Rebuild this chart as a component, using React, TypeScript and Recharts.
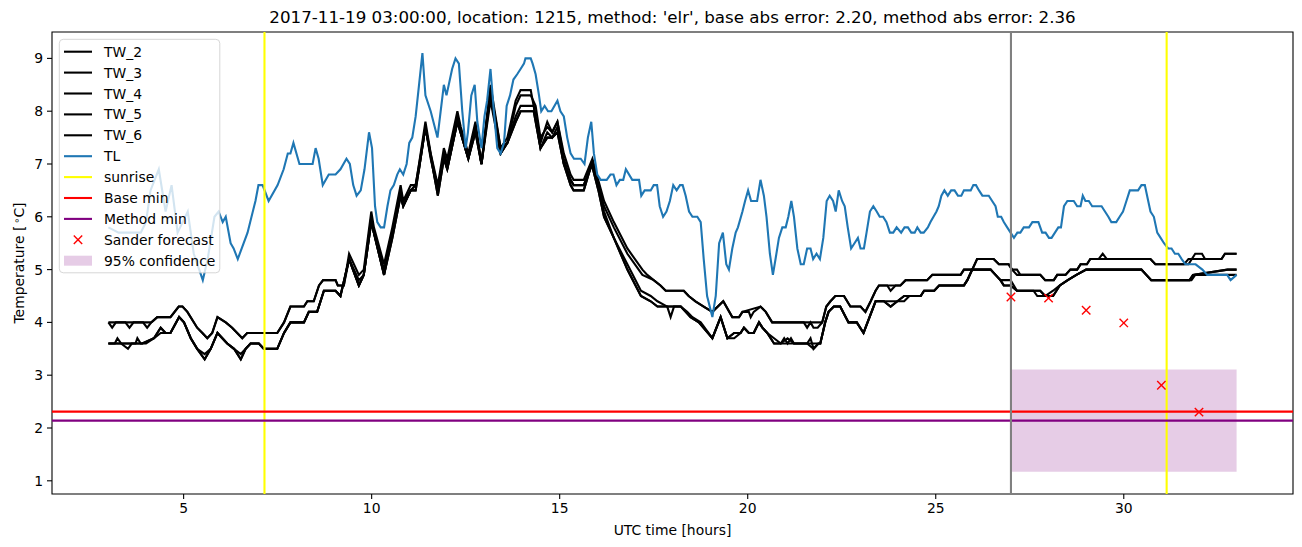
import { ComposedChart, Line, Scatter, XAxis, YAxis, ReferenceLine, ReferenceArea } from 'recharts'

// [hour, temperature] pairs
const tl: [number, number][] = [
  [3.0, 5.8], [3.27, 5.7], [3.54, 5.7], [3.86, 5.7], [4.0, 5.9], [4.12, 6.5], [4.34, 6.9], [4.52, 6.1], [4.68, 6.6], [4.84, 5.7],
  [5.11, 6.1], [5.27, 5.3], [5.51, 4.8], [5.64, 5.2], [5.82, 6.0], [5.93, 6.1], [6.04, 5.9], [6.12, 6.0], [6.25, 5.5], [6.33, 5.4],
  [6.44, 5.2], [6.7, 5.7], [6.91, 6.3], [6.99, 6.6], [7.1, 6.6], [7.26, 6.3], [7.5, 6.6], [7.66, 6.9], [7.77, 7.2], [7.84, 7.2],
  [7.92, 7.4], [8.08, 7.0], [8.43, 7.0], [8.51, 7.3], [8.59, 7.1], [8.7, 6.6], [8.86, 6.8], [9.04, 6.8], [9.17, 6.9], [9.33, 7.1],
  [9.42, 7.0], [9.51, 6.6], [9.6, 6.4], [9.71, 6.5], [9.81, 6.9], [9.93, 7.6], [10.01, 7.3], [10.09, 6.2], [10.15, 5.9], [10.24, 5.8],
  [10.33, 5.8], [10.42, 6.2], [10.5, 6.5], [10.59, 6.6], [10.68, 6.8], [10.75, 6.9], [10.84, 6.8], [10.93, 7.0], [11.0, 7.4], [11.08, 7.5],
  [11.17, 7.9], [11.26, 8.5], [11.35, 9.1], [11.43, 8.3], [11.57, 8.0], [11.75, 7.5], [11.92, 8.5], [11.99, 8.3], [12.14, 8.8], [12.23, 9.0],
  [12.32, 8.9], [12.41, 8.0], [12.5, 7.3], [12.56, 7.6], [12.65, 8.3], [12.74, 8.5], [12.81, 7.8], [12.92, 7.3], [13.0, 7.9], [13.07, 8.2],
  [13.16, 8.8], [13.25, 8.0], [13.34, 7.3], [13.43, 7.2], [13.52, 7.4], [13.59, 8.1], [13.68, 8.3], [13.77, 8.6], [13.87, 8.7], [13.96, 8.8],
  [14.05, 8.9], [14.09, 9.0], [14.23, 9.0], [14.28, 8.9], [14.36, 8.7], [14.45, 8.3], [14.51, 8.0], [14.6, 8.1], [14.69, 8.0], [14.78, 8.0],
  [14.94, 8.2], [15.02, 8.0], [15.11, 7.9], [15.2, 7.5], [15.29, 7.2], [15.38, 7.1], [15.56, 7.1], [15.66, 7.0], [15.75, 7.5], [15.84, 7.8],
  [15.91, 7.2], [16.0, 6.8], [16.09, 6.7], [16.25, 6.7], [16.35, 6.8], [16.43, 6.8], [16.51, 6.6], [16.6, 6.7], [16.69, 6.7], [16.76, 6.9],
  [16.93, 6.7], [17.11, 6.7], [17.17, 6.4], [17.26, 6.5], [17.42, 6.5], [17.5, 6.6], [17.59, 6.6], [17.66, 6.2], [17.75, 6.0], [17.84, 6.1],
  [17.93, 6.3], [18.02, 6.6], [18.11, 6.5], [18.2, 6.6], [18.27, 6.6], [18.35, 6.4], [18.44, 6.1], [18.53, 6.0], [18.66, 6.0], [18.75, 5.9],
  [18.83, 5.2], [18.92, 4.5], [19.06, 4.1], [19.15, 4.5], [19.24, 5.5], [19.34, 5.7], [19.43, 5.1], [19.5, 5.0], [19.59, 5.4], [19.68, 5.7],
  [19.74, 5.8], [19.86, 6.1], [19.93, 6.3], [20.01, 6.5], [20.09, 6.3], [20.25, 6.3], [20.34, 6.7], [20.43, 6.4], [20.5, 6.0], [20.59, 5.3],
  [20.67, 4.9], [20.74, 5.2], [20.83, 5.6], [20.92, 5.8], [21.01, 5.8], [21.08, 6.0], [21.16, 6.3], [21.23, 6.0], [21.32, 5.4], [21.41, 5.1],
  [21.49, 5.1], [21.58, 5.4], [21.67, 5.4], [21.74, 5.2], [21.83, 5.3], [21.92, 5.2], [22.01, 5.6], [22.1, 6.3], [22.18, 6.4], [22.27, 6.3],
  [22.34, 6.1], [22.42, 6.5], [22.51, 6.3], [22.58, 6.2], [22.66, 5.8], [22.75, 5.4], [22.84, 5.5], [22.93, 5.6], [23.0, 5.4], [23.09, 5.4],
  [23.16, 5.7], [23.25, 6.1], [23.34, 6.2], [23.43, 6.1], [23.51, 6.0], [23.6, 6.0], [23.69, 5.9], [23.78, 5.7], [23.87, 5.7], [23.96, 5.8],
  [24.08, 5.7], [24.17, 5.8], [24.26, 5.8], [24.35, 5.7], [24.44, 5.7], [24.51, 5.8], [24.6, 5.7], [24.68, 5.7], [24.79, 5.8], [24.86, 5.9],
  [24.94, 6.0], [25.02, 6.1], [25.08, 6.2], [25.15, 6.4], [25.23, 6.5], [25.32, 6.4], [25.41, 6.5], [25.5, 6.5], [25.59, 6.4], [25.68, 6.4],
  [25.75, 6.5], [25.93, 6.5], [26.0, 6.6], [26.07, 6.6], [26.15, 6.5], [26.24, 6.4], [26.41, 6.4], [26.5, 6.3], [26.59, 6.2], [26.65, 6.0],
  [26.74, 6.0], [26.81, 5.9], [26.9, 5.8], [26.99, 5.7], [27.08, 5.6], [27.17, 5.7], [27.25, 5.7], [27.34, 5.8], [27.48, 5.8], [27.57, 5.9],
  [27.73, 5.9], [27.83, 5.7], [27.92, 5.7], [28.01, 5.6], [28.08, 5.6], [28.17, 5.7], [28.26, 5.8], [28.33, 5.8], [28.41, 6.2], [28.5, 6.3],
  [28.67, 6.3], [28.76, 6.2], [28.85, 6.2], [28.91, 6.4], [28.98, 6.3], [29.07, 6.3], [29.16, 6.2], [29.41, 6.2], [29.5, 6.1], [29.59, 6.0],
  [29.67, 5.9], [29.8, 5.9], [29.89, 6.0], [29.98, 6.1], [30.07, 6.3], [30.16, 6.5], [30.38, 6.5], [30.47, 6.6], [30.56, 6.6], [30.65, 6.3],
  [30.71, 6.1], [30.8, 6.0], [30.89, 5.7], [30.98, 5.6], [31.07, 5.5], [31.18, 5.4], [31.27, 5.4], [31.36, 5.3], [31.45, 5.3], [31.54, 5.2],
  [31.64, 5.1], [31.91, 5.1], [32.09, 5.0], [32.22, 4.9], [32.75, 4.9], [32.84, 4.8], [33.0, 4.9],
]

const tw2: [number, number][] = [
  [3.0, 4.0], [3.45, 4.0], [3.67, 4.0], [4.14, 4.0], [4.3, 4.1], [4.65, 4.1], [4.87, 4.3], [4.97, 4.3], [5.1, 4.2], [5.36, 3.9],
  [5.5, 3.8], [5.63, 3.7], [5.76, 3.8], [5.9, 4.1], [6.12, 4.0], [6.29, 3.9], [6.56, 3.7], [6.69, 3.8], [7.49, 3.8], [7.67, 4.0],
  [7.84, 4.3], [8.2, 4.3], [8.29, 4.4], [8.46, 4.4], [8.6, 4.7], [8.71, 4.8], [9.04, 4.8], [9.1, 4.7], [9.26, 4.7], [9.4, 5.3],
  [9.66, 4.9], [9.79, 5.0], [9.99, 6.1], [10.06, 5.8], [10.33, 5.1], [10.55, 5.8], [10.77, 6.6], [10.84, 6.3], [11.04, 6.6], [11.17, 6.6],
  [11.26, 7.0], [11.43, 7.8], [11.57, 7.2], [11.76, 6.6], [11.92, 7.3], [12.01, 7.1], [12.28, 8.0], [12.37, 7.7], [12.57, 7.2], [12.76, 7.8],
  [12.92, 7.0], [13.16, 8.5], [13.43, 7.3], [13.61, 7.5], [13.83, 8.2], [13.96, 8.4], [14.23, 8.4], [14.49, 7.4], [14.67, 7.8], [14.8, 7.6],
  [14.94, 7.8], [15.11, 7.2], [15.29, 6.8], [15.37, 6.7], [15.64, 6.7], [15.87, 7.1], [16.18, 6.3], [16.44, 5.9], [16.8, 5.4], [17.2, 5.0],
  [17.33, 4.9], [17.5, 4.8], [17.68, 4.7], [17.82, 4.6], [18.3, 4.6], [18.43, 4.5], [18.61, 4.4], [18.83, 4.3], [19.06, 4.2], [19.35, 4.4],
  [19.59, 4.1], [19.77, 4.1], [19.86, 4.2], [20.03, 4.2], [20.08, 4.1], [20.16, 4.2], [20.34, 4.3], [20.48, 4.2], [20.65, 4.0], [21.49, 4.0],
  [21.58, 3.9], [21.67, 4.0], [21.75, 3.9], [21.86, 3.9], [21.98, 4.0], [22.09, 4.3], [22.2, 4.4], [22.33, 4.5], [22.56, 4.5], [22.73, 4.3],
  [23.0, 4.3], [23.13, 4.2], [23.27, 4.4], [23.4, 4.6], [23.49, 4.7], [23.71, 4.7], [23.8, 4.6], [23.93, 4.7], [24.06, 4.7], [24.2, 4.8],
  [24.77, 4.8], [24.91, 4.9], [25.66, 4.9], [25.75, 5.0], [25.97, 5.0], [26.1, 5.2], [26.54, 5.2], [26.68, 5.1], [26.94, 5.1], [27.03, 5.0],
  [27.16, 5.0], [27.25, 4.9], [27.78, 4.9], [27.91, 4.8], [28.14, 4.8], [28.23, 4.9], [28.45, 4.9], [28.58, 5.0], [28.76, 5.0], [28.85, 5.1],
  [29.02, 5.1], [29.11, 5.2], [29.33, 5.2], [29.44, 5.3], [29.55, 5.2], [30.71, 5.2], [30.84, 5.1], [31.72, 5.1], [31.9, 5.3], [32.08, 5.3],
  [32.16, 5.2], [32.6, 5.2], [32.69, 5.3], [33.0, 5.3],
]

const tw3: [number, number][] = [
  [3.0, 4.0], [3.1, 3.9], [3.2, 4.0], [3.45, 4.0], [3.56, 3.9], [3.67, 4.0], [3.92, 4.0], [4.03, 3.9], [4.14, 4.0], [4.3, 4.1],
  [4.65, 4.1], [4.87, 4.3], [4.97, 4.3], [5.1, 4.2], [5.36, 3.9], [5.5, 3.8], [5.63, 3.7], [5.76, 3.8], [5.9, 4.1], [6.12, 4.0],
  [6.29, 3.9], [6.56, 3.7], [6.69, 3.8], [7.49, 3.8], [7.67, 4.0], [7.84, 4.3], [8.2, 4.3], [8.29, 4.4], [8.46, 4.4], [8.6, 4.7],
  [8.71, 4.8], [9.04, 4.8], [9.1, 4.7], [9.26, 4.7], [9.4, 5.2], [9.66, 4.8], [9.79, 4.9], [9.99, 6.0], [10.06, 5.7], [10.33, 5.0],
  [10.55, 5.7], [10.77, 6.5], [10.84, 6.3], [11.04, 6.5], [11.17, 6.6], [11.26, 6.9], [11.43, 7.7], [11.57, 7.1], [11.76, 6.5], [11.92, 7.2],
  [12.01, 7.0], [12.28, 7.9], [12.37, 7.6], [12.57, 7.1], [12.76, 7.7], [12.92, 7.0], [13.16, 8.4], [13.43, 7.3], [13.61, 7.4], [13.83, 8.1],
  [13.96, 8.3], [14.23, 8.3], [14.36, 8.1], [14.49, 7.5], [14.67, 7.7], [14.8, 7.6], [14.94, 7.8], [15.11, 7.1], [15.29, 6.7], [15.37, 6.6],
  [15.64, 6.6], [15.87, 7.0], [16.18, 6.2], [16.44, 5.8], [16.8, 5.3], [17.2, 4.9], [17.5, 4.8], [17.68, 4.7], [17.82, 4.6], [18.3, 4.6],
  [18.43, 4.5], [18.61, 4.4], [18.83, 4.3], [19.06, 4.2], [19.35, 4.4], [19.59, 4.1], [19.77, 4.1], [19.86, 4.2], [20.34, 4.3], [20.48, 4.2],
  [20.65, 4.0], [21.49, 4.0], [21.98, 4.0], [22.09, 4.3], [22.2, 4.4], [22.33, 4.5], [22.56, 4.5], [22.73, 4.3], [23.0, 4.3], [23.13, 4.2],
  [23.27, 4.4], [23.4, 4.6], [23.49, 4.7], [24.06, 4.7], [24.2, 4.8], [24.77, 4.8], [24.91, 4.9], [25.66, 4.9], [25.75, 5.0], [25.97, 5.0],
  [26.1, 5.2], [26.54, 5.2], [26.68, 5.1], [26.94, 5.1], [27.03, 5.0], [27.16, 4.9], [27.78, 4.9], [27.91, 4.8], [28.14, 4.8], [28.23, 4.9],
  [28.45, 4.9], [28.58, 5.0], [28.76, 5.0], [28.85, 5.1], [29.02, 5.1], [29.11, 5.2], [30.71, 5.2], [30.84, 5.1], [31.6, 5.1], [31.72, 5.2],
  [32.6, 5.2], [32.69, 5.3], [33.0, 5.3],
]

const tw4: [number, number][] = [
  [3.0, 3.6], [3.52, 3.6], [3.9, 3.6], [4.21, 3.7], [4.39, 3.9], [4.52, 3.8], [4.65, 3.8], [4.88, 4.1], [5.01, 4.0], [5.19, 3.7],
  [5.36, 3.5], [5.56, 3.3], [5.72, 3.5], [5.9, 3.8], [6.03, 3.7], [6.16, 3.6], [6.34, 3.5], [6.52, 3.3], [6.65, 3.5], [6.78, 3.6],
  [7.0, 3.6], [7.13, 3.5], [7.49, 3.5], [7.67, 3.8], [7.84, 4.0], [8.2, 4.0], [8.33, 4.2], [8.55, 4.2], [8.73, 4.6], [9.04, 4.6],
  [9.17, 4.5], [9.4, 5.2], [9.66, 4.7], [9.79, 4.9], [9.99, 5.9], [10.33, 4.9], [10.55, 5.6], [10.77, 6.4], [10.84, 6.2], [11.04, 6.5],
  [11.17, 6.5], [11.43, 7.7], [11.76, 6.4], [11.92, 7.1], [12.01, 6.9], [12.28, 7.8], [12.57, 7.1], [12.76, 7.6], [12.92, 7.0], [13.16, 8.3],
  [13.43, 7.2], [13.61, 7.4], [13.83, 7.8], [13.96, 8.0], [14.31, 8.0], [14.49, 7.3], [14.67, 7.5], [14.8, 7.5], [14.94, 7.6], [15.11, 7.0],
  [15.29, 6.6], [15.37, 6.5], [15.64, 6.5], [15.85, 7.0], [16.03, 6.5], [16.18, 6.0], [16.44, 5.6], [16.8, 5.0], [17.16, 4.5], [17.42, 4.4],
  [17.6, 4.3], [17.86, 4.3], [17.95, 4.1], [18.04, 4.3], [18.22, 4.3], [18.35, 4.2], [18.48, 4.1], [18.7, 4.0], [19.06, 3.7], [19.28, 4.1],
  [19.46, 3.7], [19.64, 3.8], [19.81, 3.8], [19.9, 3.9], [20.03, 3.8], [20.16, 3.8], [20.3, 4.0], [20.39, 3.9], [20.52, 3.8], [20.7, 3.6],
  [20.88, 3.6], [20.97, 3.7], [21.06, 3.6], [21.15, 3.7], [21.23, 3.6], [21.58, 3.6], [21.67, 3.7], [21.75, 3.5], [21.88, 3.6], [21.93, 3.6],
  [22.06, 4.0], [22.15, 4.2], [22.29, 4.3], [22.46, 4.3], [22.68, 4.0], [22.9, 4.0], [23.08, 3.8], [23.4, 4.4], [23.62, 4.4], [23.8, 4.3],
  [23.98, 4.4], [24.16, 4.5], [24.6, 4.5], [24.69, 4.6], [24.96, 4.6], [25.09, 4.7], [25.75, 4.7], [25.84, 4.8], [25.97, 5.0], [26.46, 5.0],
  [26.59, 4.9], [26.72, 4.8], [26.81, 4.7], [26.99, 4.7], [27.16, 4.6], [27.78, 4.6], [27.91, 4.5], [28.12, 4.5], [28.3, 4.7], [28.51, 4.8],
  [28.74, 4.9], [29.0, 5.0], [30.47, 5.0], [30.6, 4.9], [30.73, 4.8], [31.75, 4.8], [31.84, 4.9], [32.76, 5.0], [33.0, 5.0],
]

const tw5: [number, number][] = [
  [3.0, 3.6], [3.17, 3.6], [3.24, 3.7], [3.34, 3.6], [3.52, 3.5], [3.62, 3.6], [3.72, 3.6], [3.77, 3.7], [3.86, 3.6], [4.0, 3.6],
  [4.21, 3.7], [4.39, 3.9], [4.52, 3.8], [4.65, 3.8], [4.88, 4.1], [5.01, 4.0], [5.19, 3.7], [5.36, 3.5], [5.56, 3.4], [5.72, 3.5],
  [5.9, 3.8], [6.03, 3.7], [6.16, 3.6], [6.34, 3.5], [6.52, 3.4], [6.65, 3.5], [6.78, 3.6], [7.0, 3.6], [7.13, 3.5], [7.49, 3.5],
  [7.67, 3.8], [7.84, 4.0], [8.2, 4.0], [8.33, 4.2], [8.55, 4.2], [8.73, 4.6], [9.04, 4.6], [9.17, 4.5], [9.4, 5.2], [9.66, 4.7],
  [9.79, 4.9], [9.99, 5.9], [10.33, 4.9], [10.55, 5.7], [10.77, 6.4], [10.84, 6.2], [11.04, 6.5], [11.17, 6.6], [11.43, 7.7], [11.76, 6.5],
  [11.92, 7.2], [12.01, 6.9], [12.28, 7.8], [12.57, 7.1], [12.76, 7.7], [12.92, 7.0], [13.16, 8.4], [13.43, 7.2], [13.61, 7.4], [13.83, 7.9],
  [13.96, 8.1], [14.31, 8.1], [14.49, 7.3], [14.67, 7.6], [14.8, 7.5], [14.94, 7.7], [15.11, 7.0], [15.29, 6.7], [15.37, 6.6], [15.64, 6.6],
  [15.85, 7.0], [16.03, 6.6], [16.18, 6.1], [16.44, 5.6], [16.8, 5.1], [17.16, 4.6], [17.42, 4.5], [17.6, 4.4], [17.86, 4.3], [18.04, 4.3],
  [18.22, 4.3], [18.39, 4.2], [18.53, 4.1], [18.75, 4.0], [19.06, 3.7], [19.28, 4.1], [19.46, 3.7], [19.64, 3.7], [19.81, 3.8], [19.9, 3.9],
  [20.03, 3.8], [20.16, 3.8], [20.3, 4.0], [20.39, 3.9], [20.52, 3.8], [20.7, 3.7], [20.88, 3.6], [21.06, 3.7], [21.23, 3.6], [21.58, 3.6],
  [21.75, 3.6], [21.93, 3.6], [22.06, 4.0], [22.15, 4.2], [22.29, 4.3], [22.46, 4.3], [22.68, 4.0], [22.9, 4.0], [23.08, 3.8], [23.4, 4.4],
  [23.62, 4.4], [23.98, 4.4], [24.16, 4.5], [24.6, 4.5], [24.69, 4.6], [24.96, 4.6], [25.09, 4.7], [25.75, 4.7], [25.84, 4.8], [25.97, 5.0],
  [26.46, 5.0], [26.59, 4.9], [26.72, 4.8], [26.99, 4.8], [27.16, 4.6], [27.6, 4.6], [27.7, 4.5], [27.91, 4.5], [28.12, 4.6], [28.3, 4.7],
  [28.51, 4.8], [28.74, 4.9], [29.0, 5.0], [30.47, 5.0], [30.6, 4.9], [30.73, 4.8], [31.8, 4.8], [31.9, 4.9], [33.0, 4.9],
]

const tw6: [number, number][] = [
  [3.0, 3.6], [3.9, 3.6], [4.21, 3.7], [4.39, 3.8], [4.52, 3.8], [4.65, 3.8], [4.88, 4.1], [5.01, 4.0], [5.19, 3.7], [5.36, 3.5],
  [5.56, 3.3], [5.72, 3.5], [5.9, 3.8], [6.03, 3.7], [6.16, 3.6], [6.34, 3.5], [6.52, 3.3], [6.65, 3.5], [6.78, 3.6], [7.0, 3.6],
  [7.13, 3.5], [7.49, 3.5], [7.67, 3.8], [7.84, 4.0], [8.2, 4.0], [8.33, 4.2], [8.55, 4.2], [8.73, 4.6], [9.04, 4.6], [9.17, 4.5],
  [9.4, 5.2], [9.66, 4.7], [9.79, 4.9], [9.99, 5.9], [10.33, 4.9], [10.55, 5.6], [10.77, 6.4], [10.84, 6.2], [11.04, 6.5], [11.17, 6.5],
  [11.43, 7.7], [11.76, 6.4], [11.92, 7.1], [12.01, 6.9], [12.28, 7.8], [12.57, 7.1], [12.76, 7.6], [12.92, 7.0], [13.16, 8.2], [13.43, 7.2],
  [13.61, 7.4], [13.83, 7.8], [13.96, 8.0], [14.31, 8.0], [14.49, 7.3], [14.67, 7.5], [14.8, 7.5], [14.94, 7.6], [15.11, 7.0], [15.29, 6.6],
  [15.37, 6.5], [15.64, 6.5], [15.85, 7.0], [16.03, 6.5], [16.18, 6.0], [16.44, 5.6], [16.8, 5.0], [17.16, 4.5], [17.42, 4.4], [17.6, 4.3],
  [18.22, 4.3], [18.35, 4.2], [18.48, 4.1], [18.7, 4.0], [19.06, 3.7], [19.28, 4.1], [19.46, 3.7], [19.64, 3.8], [19.81, 3.8], [19.9, 3.9],
  [20.03, 3.8], [20.16, 3.8], [20.3, 4.0], [20.39, 3.9], [20.52, 3.8], [20.7, 3.6], [21.23, 3.6], [21.58, 3.6], [21.75, 3.5], [21.88, 3.6],
  [21.93, 3.6], [22.06, 4.0], [22.15, 4.2], [22.29, 4.3], [22.46, 4.3], [22.68, 4.0], [22.9, 4.0], [23.08, 3.8], [23.4, 4.4], [23.62, 4.4],
  [23.8, 4.3], [23.98, 4.4], [24.16, 4.4], [24.3, 4.5], [24.6, 4.5], [24.69, 4.6], [24.96, 4.6], [25.09, 4.7], [25.75, 4.7], [25.84, 4.8],
  [25.97, 5.0], [26.46, 5.0], [26.59, 4.9], [26.72, 4.8], [26.81, 4.7], [26.99, 4.7], [27.16, 4.6], [27.5, 4.6], [27.78, 4.6], [27.91, 4.5],
  [28.12, 4.5], [28.3, 4.7], [28.51, 4.8], [28.74, 4.9], [29.0, 5.0], [30.47, 5.0], [30.6, 4.9], [30.73, 4.8], [31.75, 4.8], [31.84, 4.9],
  [32.76, 5.0], [33.0, 5.0],
]

const sanderHours = [27, 28, 29, 30, 31, 32]
const sanderTemps = [4.48, 4.46, 4.23, 3.99, 2.81, 2.3]

const sunriseHours = [7.15, 31.14]
const forecastStart = 27
const baseMin = 2.31
const methodMin = 2.14
const confidence = { from: 27, to: 33, low: 1.17, high: 3.11 }

const xTicks = [5, 10, 15, 20, 25, 30]
const yTicks = [1, 2, 3, 4, 5, 6, 7, 8, 9]

const twSeries = [
  { name: 'TW_2', pts: tw2 },
  { name: 'TW_3', pts: tw3 },
  { name: 'TW_4', pts: tw4 },
  { name: 'TW_5', pts: tw5 },
  { name: 'TW_6', pts: tw6 },
]

const rows = (pts: [number, number][]) => pts.map(([h, t]) => ({ h, t }))
const sanderRows = sanderHours.map((h, i) => ({ h, t: sanderTemps[i] }))

const FONT = 'DejaVu Sans, sans-serif'
const TICK = { fontSize: 13.9, fill: '#000', fontFamily: FONT }
const LW = 2.1

const Cross = (props: any) => {
  const { cx, cy } = props
  const r = 4.2
  return (
    <g stroke="#ff0000" strokeWidth={1.4}>
      <line x1={cx - r} y1={cy - r} x2={cx + r} y2={cy + r} />
      <line x1={cx - r} y1={cy + r} x2={cx + r} y2={cy - r} />
    </g>
  )
}

const legendItems = [
  { label: 'TW_2', kind: 'line', color: '#000000' },
  { label: 'TW_3', kind: 'line', color: '#000000' },
  { label: 'TW_4', kind: 'line', color: '#000000' },
  { label: 'TW_5', kind: 'line', color: '#000000' },
  { label: 'TW_6', kind: 'line', color: '#000000' },
  { label: 'TL', kind: 'line', color: '#1f77b4' },
  { label: 'sunrise', kind: 'line', color: '#ffff00' },
  { label: 'Base min', kind: 'line', color: '#ff0000' },
  { label: 'Method min', kind: 'line', color: '#800080' },
  { label: 'Sander forecast', kind: 'cross', color: '#ff0000' },
  { label: '95% confidence', kind: 'patch', color: '#800080' },
]

function LegendBox() {
  return (
    <svg width={163} height={236} style={{ position: 'absolute', left: 58, top: 38 }}>
      <rect x={1.3} y={1.3} width={160.5} height={233.5} rx={4} fill="#ffffff" fillOpacity={0.8} stroke="#cccccc" strokeOpacity={0.8} />
      {legendItems.map((it, i) => {
        const y = 13.7 + i * 20.9
        return (
          <g key={it.label}>
            {it.kind === 'line' && <line x1={6} x2={34} y1={y} y2={y} stroke={it.color} strokeWidth={LW} />}
            {it.kind === 'cross' && (
              <g stroke={it.color} strokeWidth={1.4}>
                <line x1={15.8} y1={y - 4.2} x2={24.2} y2={y + 4.2} />
                <line x1={15.8} y1={y + 4.2} x2={24.2} y2={y - 4.2} />
              </g>
            )}
            {it.kind === 'patch' && <rect x={6} y={y - 5} width={28} height={10} fill={it.color} fillOpacity={0.2} />}
            <text x={46} y={y} dy="0.36em" fontSize={13.9} fontFamily={FONT} fill="#000">{it.label}</text>
          </g>
        )
      })}
    </svg>
  )
}

export default function App() {
  return (
    <div style={{ position: 'relative', width: 1302, height: 547, margin: -8, background: '#fff', fontFamily: FONT }}>
      <div style={{ position: 'absolute', left: 52, width: 1241, top: 7, textAlign: 'center', fontSize: 16.7, lineHeight: '20px', color: '#000' }}>
        2017-11-19 03:00:00, location: 1215, method: 'elr', base abs error: 2.20, method abs error: 2.36
      </div>
      <ComposedChart width={1302} height={547} margin={{ top: 32, right: 9, bottom: 23, left: 12 }}>
        <XAxis
          dataKey="h"
          type="number"
          domain={[1.5, 34.5]}
          ticks={xTicks}
          allowDataOverflow
          height={30}
          axisLine={false}
          tickLine={{ stroke: '#000', strokeWidth: 1.1 }}
          tickSize={5}
          tickMargin={4}
          tick={TICK}
        />
        <YAxis
          dataKey="t"
          type="number"
          domain={[0.75, 9.5]}
          ticks={yTicks}
          allowDataOverflow
          width={40}
          axisLine={false}
          tickLine={{ stroke: '#000', strokeWidth: 1.1 }}
          tickSize={5}
          tickMargin={4}
          tick={TICK}
        />
        <ReferenceArea x1={confidence.from} x2={confidence.to} y1={confidence.low} y2={confidence.high} fill="#800080" fillOpacity={0.2} stroke="none" />
        {twSeries.map((s) => (
          <Line key={s.name} data={rows(s.pts)} dataKey="t" name={s.name} type="linear" stroke="#000000" strokeWidth={LW} dot={false} isAnimationActive={false} />
        ))}
        <Line data={rows(tl)} dataKey="t" name="TL" type="linear" stroke="#1f77b4" strokeWidth={LW} dot={false} isAnimationActive={false} />
        {sunriseHours.map((h) => (
          <ReferenceLine key={h} x={h} stroke="#ffff00" strokeWidth={LW} />
        ))}
        <ReferenceLine y={baseMin} stroke="#ff0000" strokeWidth={LW} />
        <ReferenceLine y={methodMin} stroke="#800080" strokeWidth={LW} />
        <ReferenceLine x={forecastStart} stroke="#808080" strokeWidth={LW} />
        <Scatter data={sanderRows} dataKey="t" name="Sander forecast" shape={Cross} isAnimationActive={false} />
        <ReferenceArea x1={1.5} x2={34.5} y1={0.75} y2={9.5} fill="none" stroke="#000" strokeWidth={1.1} />
      </ComposedChart>
      <LegendBox />
      <div style={{ position: 'absolute', left: 52, width: 1241, top: 521, textAlign: 'center', fontSize: 13.9, lineHeight: '18px', color: '#000' }}>
        UTC time [hours]
      </div>
      <div
        style={{
          position: 'absolute',
          left: 18,
          top: 263,
          transform: 'translate(-50%, -50%) rotate(-90deg)',
          whiteSpace: 'nowrap',
          fontSize: 13.9,
          lineHeight: '18px',
          color: '#000',
        }}
      >
        Temperature [<sup style={{ fontSize: '70%', verticalAlign: '0.45em', marginLeft: 2 }}>∘</sup>C]
      </div>
    </div>
  )
}
